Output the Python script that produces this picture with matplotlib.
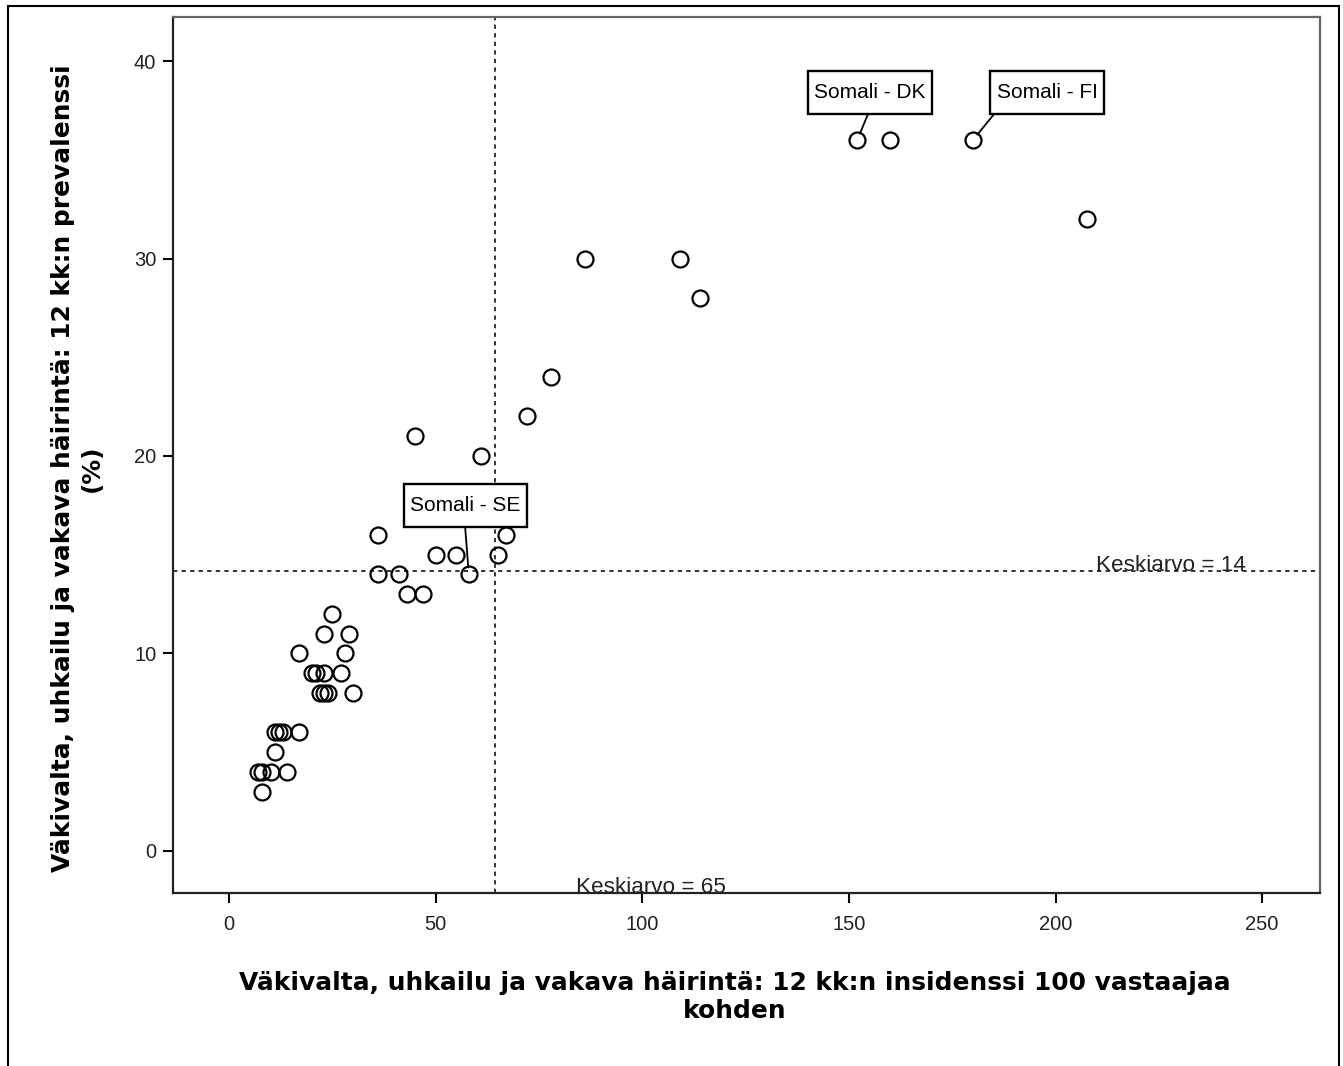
import matplotlib
matplotlib.use('Agg')
import matplotlib.pyplot as plt
from matplotlib.patches import Rectangle

# incidence per 100 respondents (x) and 12-month prevalence % (y)
incidence = [152, 160, 180, 207.5, 86, 109, 114, 78, 72, 45, 61, 36, 67, 50, 55, 65,
             36, 41, 58, 43, 47, 25, 23, 29, 17, 28, 20, 21, 23, 27, 22, 23, 24, 30,
             11, 12, 13, 17, 11, 7, 8, 10, 14, 8]
prevalence = [36, 36, 36, 32, 30, 30, 28, 24, 22, 21, 20, 16, 16, 15, 15, 15,
              14, 14, 14, 13, 13, 12, 11, 11, 10, 10, 9, 9, 9, 9, 8, 8, 8, 8,
              6, 6, 6, 6, 5, 4, 4, 4, 4, 3]

mean_x = 64.3
mean_y = 14.2

labels = ['Somali - DK', 'Somali - FI', 'Somali - SE']
label_points = [0, 2, 18]
# box centre, box width and where the leader line leaves the box (data units)
label_centre = [(155.1, 38.4), (198.0, 38.4), (57.1, 17.5)]
label_width = [30.0, 27.6, 29.8]
label_height = 2.18
label_leader_x = [154.6, 185.1, 57.1]

xticks = [0, 50, 100, 150, 200, 250]
yticks = [0, 10, 20, 30, 40]

TICK_FONT = ['Liberation Sans', 'DejaVu Sans']

fig = plt.figure(figsize=(13.43, 10.66), dpi=100)
ax = fig.add_axes([173 / 1343, 1 - 893 / 1066, (1320 - 173) / 1343, (893 - 17) / 1066])

# outer frame of the picture
fig.patches.append(Rectangle((8 / 1343, -0.05), (1339 - 8) / 1343, 1.05 - 6 / 1066,
                             transform=fig.transFigure, fill=False, lw=1.5,
                             edgecolor='black'))

ax.plot(incidence, prevalence, 'o', mfc='none', mec='black', ms=11.5, mew=1.6,
        zorder=3)

ax.axvline(mean_x, color='#333333', lw=1.4, ls=(0, (2.2, 2.2)), zorder=1)
ax.axhline(mean_y, color='#333333', lw=1.4, ls=(0, (2.2, 2.2)), zorder=1)

ax.text(209.8, mean_y, 'Keskiarvo = 14', ha='left', va='baseline',
        fontsize=16.2, family=TICK_FONT, color='#222222')
ax.text(102.1, -1.87, 'Keskiarvo = 65', ha='center', va='center',
        fontsize=16.2, family=TICK_FONT, clip_on=False, zorder=5, color='#222222')

for name, idx, (cx, cy), w, lx in zip(labels, label_points, label_centre,
                                      label_width, label_leader_x):
    ax.add_patch(Rectangle((cx - w / 2, cy - label_height / 2), w, label_height,
                           fc='white', ec='black', lw=1.7, zorder=4))
    ax.text(cx, cy, name, ha='center', va='center', fontsize=15,
            family=TICK_FONT, zorder=5)
    ax.annotate('', xy=(incidence[idx], prevalence[idx]),
                xytext=(lx, cy - label_height / 2),
                arrowprops=dict(arrowstyle='-', color='black', lw=1.3,
                                shrinkA=0, shrinkB=5),
                zorder=4)

ax.set_xlim(-13.6, 264)
ax.set_ylim(-2.13, 42.23)
ax.set_xticks(xticks)
ax.set_yticks(yticks)
ax.tick_params(direction='out', length=7, width=1.5, labelsize=14.5)
ax.tick_params(axis='x', pad=9)
ax.tick_params(axis='y', pad=5)
for lab in ax.get_xticklabels() + ax.get_yticklabels():
    lab.set_family(TICK_FONT)
    lab.set_color('#222222')

for side in ['left', 'bottom']:
    ax.spines[side].set_linewidth(1.6)
    ax.spines[side].set_color('#222222')
for side in ['top', 'right']:
    ax.spines[side].set_linewidth(1.6)
    ax.spines[side].set_color('#666666')

fig.text(77 / 1343, 1 - 468 / 1066,
         'Väkivalta, uhkailu ja vakava häirintä: 12 kk:n prevalenssi\n(%)',
         rotation=90, ha='center', va='center', multialignment='center',
         fontsize=17.9, fontweight='bold', linespacing=1.26)
fig.text(735 / 1343, 1 - 997 / 1066,
         'Väkivalta, uhkailu ja vakava häirintä: 12 kk:n insidenssi 100 vastaajaa\nkohden',
         ha='center', va='center', multialignment='center',
         fontsize=17.9, fontweight='bold', linespacing=1.26)

fig.savefig('out.png', dpi=100, facecolor='white')
